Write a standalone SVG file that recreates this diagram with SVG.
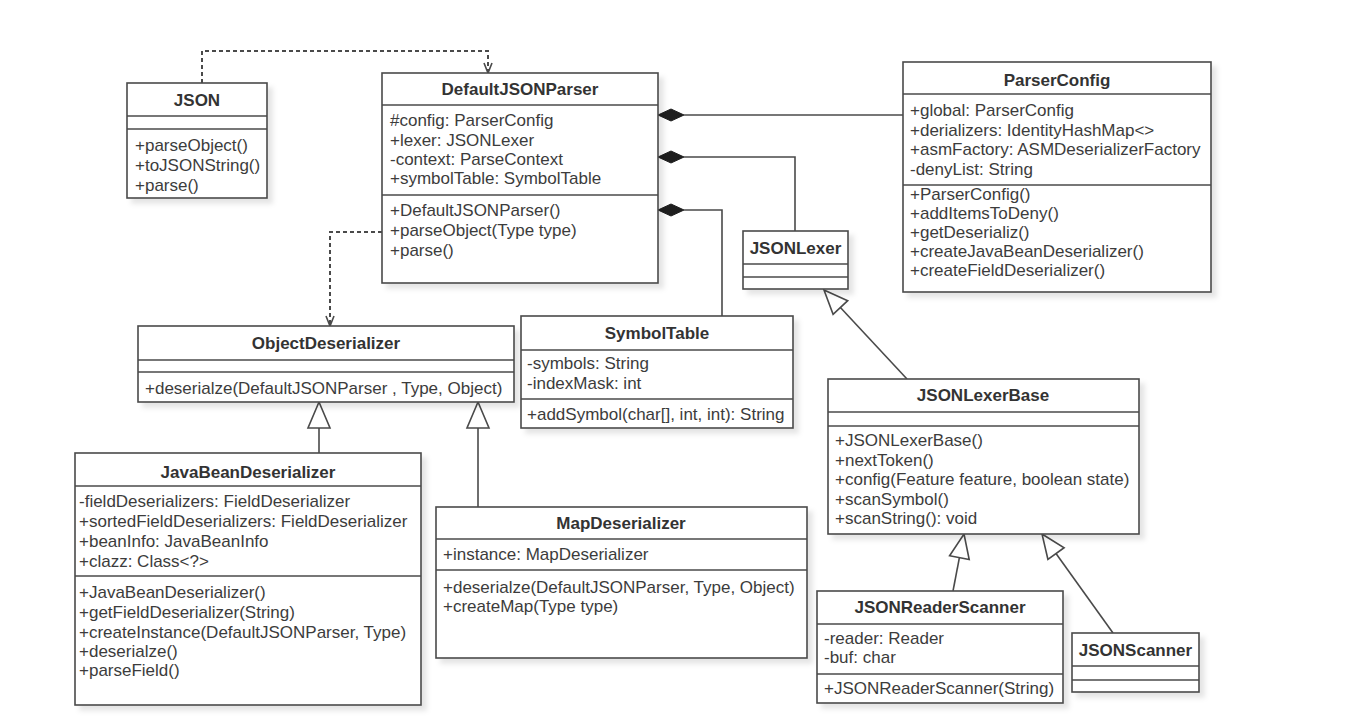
<svg xmlns="http://www.w3.org/2000/svg" width="1367" height="720" viewBox="0 0 1367 720">
<defs>
<filter id="sh" x="-10%" y="-10%" width="130%" height="130%">
<feDropShadow dx="5" dy="5" stdDeviation="2.5" flood-color="#000" flood-opacity="0.10"/>
</filter>
</defs>
<style>
.box{fill:#fff;stroke:#4a4a4a;stroke-width:1.6;filter:url(#sh)}
.sep{stroke:#4a4a4a;stroke-width:1.6}
text{font-family:"Liberation Sans",Arial,sans-serif;font-size:17px;fill:#3c3c3c}
.h{font-weight:bold;text-anchor:middle;fill:#333}
.c{stroke:#4a4a4a;stroke-width:1.6;fill:none}
.d{stroke-dasharray:4 3;stroke-width:2}
.dia{fill:#1e1e1e;stroke:#1e1e1e;stroke-width:1}
.tri{fill:#fff;stroke:#4a4a4a;stroke-width:1.6}
</style>
<rect width="1367" height="720" fill="#fff"/>

<g id="connectors">
<path class="c d" d="M202,83 V51 H488 V72"/>
<path class="c" d="M484,63 L488,73 L492,63"/>
<path class="c d" d="M382,232 H330 V325"/>
<path class="c" d="M326,316 L330,326 L334,316"/>
<path class="c" d="M684,115 H903"/>
<polygon class="dia" points="658,115 671,109 684,115 671,121"/>
<path class="c" d="M684,157 H795 V231"/>
<polygon class="dia" points="658,157 671,151 684,157 671,163"/>
<path class="c" d="M684,210 H722 V316"/>
<polygon class="dia" points="658,210 671,204 684,210 671,216"/>
<path class="c" d="M319,453 V428"/>
<polygon class="tri" points="319,402 308,428 330,428"/>
<path class="c" d="M478,507 V428"/>
<polygon class="tri" points="478,402 467,428 489,428"/>
<path class="c" d="M907,379 L840.4,307.5"/>
<polygon class="tri" points="824,290 847.7,300.7 833.1,314.3"/>
<path class="c" d="M953,591 L959.4,557.6"/>
<polygon class="tri" points="964,534 969.2,559.5 949.6,555.7"/>
<path class="c" d="M1113,633 L1056,553.5"/>
<polygon class="tri" points="1042,534 1064.1,547.7 1047.9,559.3"/>
</g>

<g id="JSON">
<rect class="box" x="127" y="83" width="140" height="115"/>
<line class="sep" x1="127" y1="116" x2="267" y2="116"/>
<line class="sep" x1="127" y1="129" x2="267" y2="129"/>
<text class="h" x="197" y="106">JSON</text>
<text x="135" y="151">+parseObject()</text>
<text x="135" y="171">+toJSONString()</text>
<text x="135" y="191">+parse()</text>
</g>

<g id="DefaultJSONParser">
<rect class="box" x="382" y="73" width="276" height="210"/>
<line class="sep" x1="382" y1="105" x2="658" y2="105"/>
<line class="sep" x1="382" y1="195" x2="658" y2="195"/>
<text class="h" x="520" y="95">DefaultJSONParser</text>
<text x="390" y="126">#config: ParserConfig</text>
<text x="390" y="146">+lexer: JSONLexer</text>
<text x="390" y="165">-context: ParseContext</text>
<text x="390" y="184">+symbolTable: SymbolTable</text>
<text x="390" y="216">+DefaultJSONParser()</text>
<text x="390" y="236">+parseObject(Type type)</text>
<text x="390" y="256">+parse()</text>
</g>

<g id="ParserConfig">
<rect class="box" x="903" y="62" width="308" height="230"/>
<line class="sep" x1="903" y1="94" x2="1211" y2="94"/>
<line class="sep" x1="903" y1="185" x2="1211" y2="185"/>
<text class="h" x="1057" y="86">ParserConfig</text>
<text x="910" y="116">+global: ParserConfig</text>
<text x="910" y="136">+derializers: IdentityHashMap&lt;&gt;</text>
<text x="910" y="155">+asmFactory: ASMDeserializerFactory</text>
<text x="910" y="175">-denyList: String</text>
<text x="910" y="200">+ParserConfig()</text>
<text x="910" y="219">+addItemsToDeny()</text>
<text x="910" y="238">+getDeserializ()</text>
<text x="910" y="257">+createJavaBeanDeserializer()</text>
<text x="910" y="276">+createFieldDeserializer()</text>
</g>

<g id="JSONLexer">
<rect class="box" x="743" y="231" width="105" height="58"/>
<line class="sep" x1="743" y1="264" x2="848" y2="264"/>
<line class="sep" x1="743" y1="277" x2="848" y2="277"/>
<text class="h" x="795.5" y="254">JSONLexer</text>
</g>

<g id="ObjectDeserializer">
<rect class="box" x="138" y="326" width="376" height="76"/>
<line class="sep" x1="138" y1="360" x2="514" y2="360"/>
<line class="sep" x1="138" y1="372" x2="514" y2="372"/>
<text class="h" x="326" y="349">ObjectDeserializer</text>
<text x="145" y="394">+deserialze(DefaultJSONParser , Type, Object)</text>
</g>

<g id="SymbolTable">
<rect class="box" x="521" y="316" width="272" height="112"/>
<line class="sep" x1="521" y1="350" x2="793" y2="350"/>
<line class="sep" x1="521" y1="399" x2="793" y2="399"/>
<text class="h" x="657" y="339">SymbolTable</text>
<text x="527" y="369">-symbols: String</text>
<text x="527" y="389">-indexMask: int</text>
<text x="527" y="420">+addSymbol(char[], int, int): String</text>
</g>

<g id="JavaBeanDeserializer">
<rect class="box" x="75" y="453" width="346" height="252"/>
<line class="sep" x1="75" y1="486" x2="421" y2="486"/>
<line class="sep" x1="75" y1="576" x2="421" y2="576"/>
<text class="h" x="248" y="478">JavaBeanDeserializer</text>
<text x="79" y="507">-fieldDeserializers: FieldDeserializer</text>
<text x="79" y="527">+sortedFieldDeserializers: FieldDeserializer</text>
<text x="79" y="547">+beanInfo: JavaBeanInfo</text>
<text x="79" y="567">+clazz: Class&lt;?&gt;</text>
<text x="79" y="598">+JavaBeanDeserializer()</text>
<text x="79" y="618">+getFieldDeserializer(String)</text>
<text x="79" y="638">+createInstance(DefaultJSONParser, Type)</text>
<text x="79" y="657">+deserialze()</text>
<text x="79" y="676">+parseField()</text>
</g>

<g id="MapDeserializer">
<rect class="box" x="436" y="507" width="371" height="151"/>
<line class="sep" x1="436" y1="539" x2="807" y2="539"/>
<line class="sep" x1="436" y1="570" x2="807" y2="570"/>
<text class="h" x="621" y="529">MapDeserializer</text>
<text x="443" y="560">+instance: MapDeserializer</text>
<text x="443" y="593">+deserialze(DefaultJSONParser, Type, Object)</text>
<text x="443" y="612">+createMap(Type type)</text>
</g>

<g id="JSONLexerBase">
<rect class="box" x="828" y="379" width="311" height="155"/>
<line class="sep" x1="828" y1="412" x2="1139" y2="412"/>
<line class="sep" x1="828" y1="426" x2="1139" y2="426"/>
<text class="h" x="983" y="401">JSONLexerBase</text>
<text x="835" y="446">+JSONLexerBase()</text>
<text x="835" y="466">+nextToken()</text>
<text x="835" y="485">+config(Feature feature, boolean state)</text>
<text x="835" y="505">+scanSymbol()</text>
<text x="835" y="524">+scanString(): void</text>
</g>

<g id="JSONReaderScanner">
<rect class="box" x="817" y="591" width="246" height="112"/>
<line class="sep" x1="817" y1="624" x2="1063" y2="624"/>
<line class="sep" x1="817" y1="674" x2="1063" y2="674"/>
<text class="h" x="940" y="613">JSONReaderScanner</text>
<text x="824" y="644">-reader: Reader</text>
<text x="824" y="663">-buf: char</text>
<text x="824" y="694">+JSONReaderScanner(String)</text>
</g>

<g id="JSONScanner">
<rect class="box" x="1072" y="633" width="127" height="59"/>
<line class="sep" x1="1072" y1="666" x2="1199" y2="666"/>
<line class="sep" x1="1072" y1="680" x2="1199" y2="680"/>
<text class="h" x="1135.5" y="656">JSONScanner</text>
</g>
</svg>
